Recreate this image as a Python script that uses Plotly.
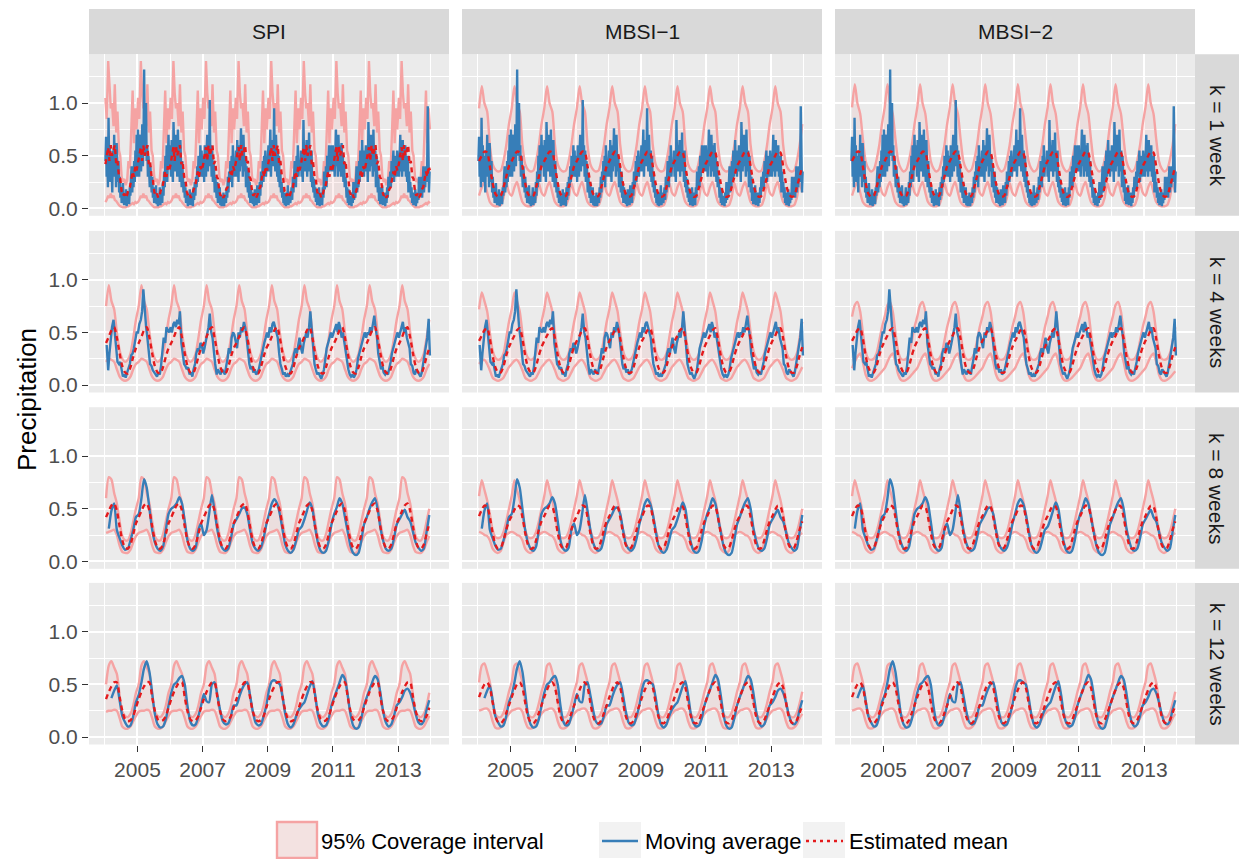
import pandas as pd
import plotly.graph_objects as go

N = None
methods = ["SPI", "MBSI\u22121", "MBSI\u22122"]
windows = ["k = 1 week", "k = 4 weeks", "k = 8 weeks", "k = 12 weeks"]
x_tick_years = ["2005", "2007", "2009", "2011", "2013"]
x_minor_years = ["2004", "2006", "2008", "2010", "2012", "2014"]
y_tick_vals = [0.0, 0.5, 1.0]
y_tick_labels = ["0.0", "0.5", "1.0"]
y_minor_vals = [0.25, 0.75, 1.25]
legend_labels = ["95% Coverage interval", "Moving average", "Estimated mean"]

# ---------------- k = 1 week (weekly observed values, one line per year) ----------------
k1_avg = [
    .45, .68, .3, .5, .2, .86, .4, .6, .25, .5, .35, .15, .55, .3, .7, .4, .55, .2, .62, .35, .25, .45, .15, .3, .1, .2,
    .05, .15, .24, .08, .03, .12, .05, .18, .02, .1, .06, .15, .04, .2, .12, .3, .4, .15, .35, .2, .45, .25, .55, .4, .7, .3,
    .75, .45, .3, .6, .7, .35, .55, .8, .4, .65, 1.32, .5, .7, 1.0, .45, .6, .3, .5, .35, .2, .4, .25, .15, .3, .1, .2,
    .05, .15, .08, .22, .04, .1, .02, .12, .06, .2, .03, .1, .15, .05, .25, .12, .35, .2, .5, .3, .6, .25, .55, .7, .4, .6,
    .5, .3, .65, .45, .25, .82, .5, .35, .7, .4, .6, .3, .75, .45, .55, .25, .65, .35, .2, .45, .3, .15, .25, .1, .2, .05,
    .15, .08, .02, .12, .05, .18, .03, .1, .06, .15, .02, .2, .08, .25, .12, .3, .2, .4, .25, .5, .35, .3, .6, .4, .55, .3,
    .35, .5, .25, .6, .4, .3, .55, .7, .35, .5, .45, 1.03, .4, .6, .3, .55, .25, .45, .35, .15, .3, .2, .1, .25, .05, .15,
    .08, .2, .03, .12, .02, .1, .05, .15, .02, .08, .12, .05, .2, .1, .3, .15, .35, .25, .45, .3, .5, .2, .6, .35, .45, .3,
    .4, .55, .3, .65, .45, .25, .6, .35, .5, .76, .4, .55, .3, .7, .45, .35, .5, .2, .4, .3, .15, .35, .1, .25, .05, .2,
    .08, .15, .04, .12, .02, .18, .05, .1, .03, .22, .08, .15, .05, .25, .12, .35, .2, .3, .45, .25, .5, .35, .55, .3, .45, .35,
    .45, .6, .35, .5, .75, .3, .55, .45, .65, .4, .95, .5, .35, .7, .45, .3, .55, .25, .5, .2, .35, .15, .25, .1, .18, .05,
    .12, .03, .15, .02, .1, .06, .22, .03, .08, .15, .05, .12, .2, .08, .3, .15, .25, .45, .3, .2, .5, .35, .6, .3, .45, .4,
    .4, .55, .3, .45, .25, .84, .45, .6, .35, .5, .65, .3, .55, .4, .72, .35, .5, .25, .55, .2, .3, .15, .28, .1, .2, .06,
    .15, .03, .12, .05, .2, .02, .1, .06, .15, .03, .2, .1, .35, .18, .25, .4, .2, .5, .3, .45, .6, .35, .5, .45, .6, .35,
    .6, .4, .5, .3, .45, .75, .4, .55, .3, .7, .45, .35, .6, .3, .62, .4, .5, .25, .45, .2, .3, .25, .1, .2, .05, .18,
    .03, .12, .05, .1, .02, .15, .05, .25, .08, .15, .1, .25, .4, .15, .3, .2, .45, .25, .55, .3, .4, .65, .35, .5, .3, .55,
    .45, .6, .35, .5, .25, .82, .5, .35, .6, .7, .4, .55, .3, .75, .45, .35, .55, .2, .5, .3, .15, .3, .07, .2, .04, .15,
    .05, .22, .03, .1, .06, .15, .02, .12, .05, .2, .1, .3, .18, .25, .35, .2, .45, .3, .4, .55, .25, .45, .35, .5, .3, .55,
    .4, .5, .3, .45, .7, .35, .55, .3, .65, .4, .5, .35, .6, .3, .45, .25, .5, .15, .35, .2, .25, .1, .2, .05, .15, .03,
    .12, .04, .18, .02, .1, .05, .15, .08, .3, .12, .2, .15, .3, .1, .25, .4, .15, .3, .2, .4, .25, .35, .97, .3, .15, .35,
]
# half-monthly model values
k1_spi_hi = [
    1.05, .85, 1.4, 1.1, .95, 1.0, .78, 1.18, .72, .92, .55, .5, .3, .25, .28, .22, .27, .45, .38, .7, 1.12, .62, .95, .75,
    1.05, .85, 1.4, 1.1, .95, 1.0, .78, 1.18, .72, .92, .55, .5, .3, .25, .28, .22, .27, .45, .38, .7, 1.12, .62, .95, .75,
    1.05, .85, 1.4, 1.1, .95, 1.0, .78, 1.18, .72, .92, .55, .5, .3, .25, .28, .22, .27, .45, .38, .7, 1.12, .62, .95, .75,
    1.05, .85, 1.4, 1.1, .95, 1.0, .78, 1.18, .72, .92, .55, .5, .3, .25, .28, .22, .27, .45, .38, .7, 1.12, .62, .95, .75,
    1.05, .85, 1.4, 1.1, .95, 1.0, .78, 1.18, .72, .92, .55, .5, .3, .25, .28, .22, .27, .45, .38, .7, 1.12, .62, .95, .75,
    1.05, .85, 1.4, 1.1, .95, 1.0, .78, 1.18, .72, .92, .55, .5, .3, .25, .28, .22, .27, .45, .38, .7, 1.12, .62, .95, .75,
    1.05, .85, 1.4, 1.1, .95, 1.0, .78, 1.18, .72, .92, .55, .5, .3, .25, .28, .22, .27, .45, .38, .7, 1.12, .62, .95, .75,
    1.05, .85, 1.4, 1.1, .95, 1.0, .78, 1.18, .72, .92, .55, .5, .3, .25, .28, .22, .27, .45, .38, .7, 1.12, .62, .95, .75,
    1.05, .85, 1.4, 1.1, .95, 1.0, .78, 1.18, .72, .92, .55, .5, .3, .25, .28, .22, .27, .45, .38, .7, 1.12, .62, .95, .75,
    1.05, .85, 1.4, 1.1, .95, 1.0, .78, 1.18, .72, .92, .55, .5, .3, .25, .28, .22, .27, .45, .38, .7, 1.12, .62, .95, .75,
]
k1_spi_lo = [
    .06, .08, .12, .1, .14, .1, .12, .08, .07, .05, .03, .02, .01, .01, .01, .01, .02, .02, .03, .04, .05, .04, .06, .05,
    .06, .08, .12, .1, .14, .1, .12, .08, .07, .05, .03, .02, .01, .01, .01, .01, .02, .02, .03, .04, .05, .04, .06, .05,
    .06, .08, .12, .1, .14, .1, .12, .08, .07, .05, .03, .02, .01, .01, .01, .01, .02, .02, .03, .04, .05, .04, .06, .05,
    .06, .08, .12, .1, .14, .1, .12, .08, .07, .05, .03, .02, .01, .01, .01, .01, .02, .02, .03, .04, .05, .04, .06, .05,
    .06, .08, .12, .1, .14, .1, .12, .08, .07, .05, .03, .02, .01, .01, .01, .01, .02, .02, .03, .04, .05, .04, .06, .05,
    .06, .08, .12, .1, .14, .1, .12, .08, .07, .05, .03, .02, .01, .01, .01, .01, .02, .02, .03, .04, .05, .04, .06, .05,
    .06, .08, .12, .1, .14, .1, .12, .08, .07, .05, .03, .02, .01, .01, .01, .01, .02, .02, .03, .04, .05, .04, .06, .05,
    .06, .08, .12, .1, .14, .1, .12, .08, .07, .05, .03, .02, .01, .01, .01, .01, .02, .02, .03, .04, .05, .04, .06, .05,
    .06, .08, .12, .1, .14, .1, .12, .08, .07, .05, .03, .02, .01, .01, .01, .01, .02, .02, .03, .04, .05, .04, .06, .05,
    .06, .08, .12, .1, .14, .1, .12, .08, .07, .05, .03, .02, .01, .01, .01, .01, .02, .02, .03, .04, .05, .04, .06, .05,
]
k1_spi_mean = [
    .42, .5, .58, .45, .6, .5, .55, .6, .42, .45, .3, .28, .16, .12, .14, .1, .13, .18, .2, .28, .35, .3, .4, .36,
    .42, .5, .58, .45, .6, .5, .55, .6, .42, .45, .3, .28, .16, .12, .14, .1, .13, .18, .2, .28, .35, .3, .4, .36,
    .42, .5, .58, .45, .6, .5, .55, .6, .42, .45, .3, .28, .16, .12, .14, .1, .13, .18, .2, .28, .35, .3, .4, .36,
    .42, .5, .58, .45, .6, .5, .55, .6, .42, .45, .3, .28, .16, .12, .14, .1, .13, .18, .2, .28, .35, .3, .4, .36,
    .42, .5, .58, .45, .6, .5, .55, .6, .42, .45, .3, .28, .16, .12, .14, .1, .13, .18, .2, .28, .35, .3, .4, .36,
    .42, .5, .58, .45, .6, .5, .55, .6, .42, .45, .3, .28, .16, .12, .14, .1, .13, .18, .2, .28, .35, .3, .4, .36,
    .42, .5, .58, .45, .6, .5, .55, .6, .42, .45, .3, .28, .16, .12, .14, .1, .13, .18, .2, .28, .35, .3, .4, .36,
    .42, .5, .58, .45, .6, .5, .55, .6, .42, .45, .3, .28, .16, .12, .14, .1, .13, .18, .2, .28, .35, .3, .4, .36,
    .42, .5, .58, .45, .6, .5, .55, .6, .42, .45, .3, .28, .16, .12, .14, .1, .13, .18, .2, .28, .35, .3, .4, .36,
    .42, .5, .58, .45, .6, .5, .55, .6, .42, .45, .3, .28, .16, .12, .14, .1, .13, .18, .2, .28, .35, .3, .4, .36,
]
# monthly values (Jan..Dec per line)
k1_m1_hi = [
    .95, 1.16, 1.0, .92, .6, .42, .37, .35, .36, .45, .6, .8,
    .95, 1.16, 1.0, .92, .6, .42, .37, .35, .36, .45, .6, .8,
    .95, 1.16, 1.0, .92, .6, .42, .37, .35, .36, .45, .6, .8,
    .95, 1.16, 1.0, .92, .6, .42, .37, .35, .36, .45, .6, .8,
    .95, 1.16, 1.0, .92, .6, .42, .37, .35, .36, .45, .6, .8,
    .95, 1.16, 1.0, .92, .6, .42, .37, .35, .36, .45, .6, .8,
    .95, 1.16, 1.0, .92, .6, .42, .37, .35, .36, .45, .6, .8,
    .95, 1.16, 1.0, .92, .6, .42, .37, .35, .36, .45, .6, .8,
    .95, 1.16, 1.0, .92, .6, .42, .37, .35, .36, .45, .6, .8,
    .95, 1.16, 1.0, .92, .6, .42, .37, .35, .36, .45, .6, .8,
]
k1_m2_hi = [
    .96, 1.18, 1.0, .9, .66, .45, .38, .35, .37, .46, .6, .8,
    .96, 1.18, 1.0, .9, .66, .45, .38, .35, .37, .46, .6, .8,
    .96, 1.18, 1.0, .9, .66, .45, .38, .35, .37, .46, .6, .8,
    .96, 1.18, 1.0, .9, .66, .45, .38, .35, .37, .46, .6, .8,
    .96, 1.18, 1.0, .9, .66, .45, .38, .35, .37, .46, .6, .8,
    .96, 1.18, 1.0, .9, .66, .45, .38, .35, .37, .46, .6, .8,
    .96, 1.18, 1.0, .9, .66, .45, .38, .35, .37, .46, .6, .8,
    .96, 1.18, 1.0, .9, .66, .45, .38, .35, .37, .46, .6, .8,
    .96, 1.18, 1.0, .9, .66, .45, .38, .35, .37, .46, .6, .8,
    .96, 1.18, 1.0, .9, .66, .45, .38, .35, .37, .46, .6, .8,
]
k1_m_mean = [
    .45, .5, .54, .53, .4, .24, .14, .11, .12, .2, .3, .4,
    .45, .5, .54, .53, .4, .24, .14, .11, .12, .2, .3, .4,
    .45, .5, .54, .53, .4, .24, .14, .11, .12, .2, .3, .4,
    .45, .5, .54, .53, .4, .24, .14, .11, .12, .2, .3, .4,
    .45, .5, .54, .53, .4, .24, .14, .11, .12, .2, .3, .4,
    .45, .5, .54, .53, .4, .24, .14, .11, .12, .2, .3, .4,
    .45, .5, .54, .53, .4, .24, .14, .11, .12, .2, .3, .4,
    .45, .5, .54, .53, .4, .24, .14, .11, .12, .2, .3, .4,
    .45, .5, .54, .53, .4, .24, .14, .11, .12, .2, .3, .4,
    .45, .5, .54, .53, .4, .24, .14, .11, .12, .2, .3, .4,
]
k1_m_lo = [
    .12, .2, .25, .15, .06, .03, .02, .02, .03, .1, .24, .15,
    .12, .2, .25, .15, .06, .03, .02, .02, .03, .1, .24, .15,
    .12, .2, .25, .15, .06, .03, .02, .02, .03, .1, .24, .15,
    .12, .2, .25, .15, .06, .03, .02, .02, .03, .1, .24, .15,
    .12, .2, .25, .15, .06, .03, .02, .02, .03, .1, .24, .15,
    .12, .2, .25, .15, .06, .03, .02, .02, .03, .1, .24, .15,
    .12, .2, .25, .15, .06, .03, .02, .02, .03, .1, .24, .15,
    .12, .2, .25, .15, .06, .03, .02, .02, .03, .1, .24, .15,
    .12, .2, .25, .15, .06, .03, .02, .02, .03, .1, .24, .15,
    .12, .2, .25, .15, .06, .03, .02, .02, .03, .1, .24, .15,
]

# ---------------- k = 4 weeks ----------------
k4_avg = [  # half-monthly
    N, .38, .14, .3, .48, .55, .62, .45, .35, .22, .2, .22, .12, .08, .1, .07, .12, .15, .2, .28, .3, .35, .45, .5,
    .5, .58, .62, .7, .91, .72, .55, .45, .3, .2, .18, .14, .12, .1, .08, .12, .1, .18, .3, .45, .4, .55, .52, .5,
    .55, .5, .58, .6, .55, .62, .58, .7, .4, .3, .2, .18, .15, .17, .1, .12, .08, .15, .2, .3, .35, .32, .4, .38,
    .3, .35, .42, .5, .55, .68, .5, .45, .3, .2, .1, .15, .12, .1, .15, .12, .1, .18, .25, .35, .3, .45, .5, .48,
    .4, .35, .5, .45, .55, .5, .6, .55, .45, .3, .2, .15, .18, .12, .15, .1, .12, .15, .22, .3, .35, .4, .45, .5,
    .45, .55, .5, .58, .6, .55, .5, .45, .3, .2, .15, .1, .12, .08, .1, .08, .12, .15, .2, .3, .35, .3, .4, .45,
    .35, .3, .4, .45, .5, .45, .55, .7, .5, .35, .2, .15, .1, .12, .08, .06, .1, .15, .25, .35, .4, .45, .5, .45,
    .5, .55, .58, .5, .6, .55, .45, .5, .4, .3, .2, .15, .1, .08, .1, .07, .1, .15, .25, .3, .35, .42, .45, .5,
    .45, .5, .48, .55, .5, .58, .66, .55, .45, .3, .2, .15, .18, .12, .1, .12, .1, .15, .22, .3, .35, .4, .45, .5,
    .45, .5, .55, .6, .5, .55, .45, .4, .35, .2, .18, .12, .1, .15, .12, .1, .08, .12, .2, .3, .35, .45, .63, .28,
]
k4_spi_hi = [
    .75, .95, .8, .72, .5, .33, .25, .22, .24, .3, .45, .62,
    .75, .95, .8, .72, .5, .33, .25, .22, .24, .3, .45, .62,
    .75, .95, .8, .72, .5, .33, .25, .22, .24, .3, .45, .62,
    .75, .95, .8, .72, .5, .33, .25, .22, .24, .3, .45, .62,
    .75, .95, .8, .72, .5, .33, .25, .22, .24, .3, .45, .62,
    .75, .95, .8, .72, .5, .33, .25, .22, .24, .3, .45, .62,
    .75, .95, .8, .72, .5, .33, .25, .22, .24, .3, .45, .62,
    .75, .95, .8, .72, .5, .33, .25, .22, .24, .3, .45, .62,
    .75, .95, .8, .72, .5, .33, .25, .22, .24, .3, .45, .62,
    .75, .95, .8, .72, .5, .33, .25, .22, .24, .3, .45, .62,
]
k4_spi_mean = [
    .4, .46, .52, .55, .45, .3, .18, .12, .11, .17, .27, .35,
    .4, .46, .52, .55, .45, .3, .18, .12, .11, .17, .27, .35,
    .4, .46, .52, .55, .45, .3, .18, .12, .11, .17, .27, .35,
    .4, .46, .52, .55, .45, .3, .18, .12, .11, .17, .27, .35,
    .4, .46, .52, .55, .45, .3, .18, .12, .11, .17, .27, .35,
    .4, .46, .52, .55, .45, .3, .18, .12, .11, .17, .27, .35,
    .4, .46, .52, .55, .45, .3, .18, .12, .11, .17, .27, .35,
    .4, .46, .52, .55, .45, .3, .18, .12, .11, .17, .27, .35,
    .4, .46, .52, .55, .45, .3, .18, .12, .11, .17, .27, .35,
    .4, .46, .52, .55, .45, .3, .18, .12, .11, .17, .27, .35,
]
k4_spi_lo = [
    .22, .25, .24, .22, .15, .08, .05, .04, .05, .08, .15, .2,
    .22, .25, .24, .22, .15, .08, .05, .04, .05, .08, .15, .2,
    .22, .25, .24, .22, .15, .08, .05, .04, .05, .08, .15, .2,
    .22, .25, .24, .22, .15, .08, .05, .04, .05, .08, .15, .2,
    .22, .25, .24, .22, .15, .08, .05, .04, .05, .08, .15, .2,
    .22, .25, .24, .22, .15, .08, .05, .04, .05, .08, .15, .2,
    .22, .25, .24, .22, .15, .08, .05, .04, .05, .08, .15, .2,
    .22, .25, .24, .22, .15, .08, .05, .04, .05, .08, .15, .2,
    .22, .25, .24, .22, .15, .08, .05, .04, .05, .08, .15, .2,
    .22, .25, .24, .22, .15, .08, .05, .04, .05, .08, .15, .2,
]
k4_m1_hi = [
    .72, .88, .8, .7, .5, .33, .26, .24, .25, .3, .45, .6,
    .72, .88, .8, .7, .5, .33, .26, .24, .25, .3, .45, .6,
    .72, .88, .8, .7, .5, .33, .26, .24, .25, .3, .45, .6,
    .72, .88, .8, .7, .5, .33, .26, .24, .25, .3, .45, .6,
    .72, .88, .8, .7, .5, .33, .26, .24, .25, .3, .45, .6,
    .72, .88, .8, .7, .5, .33, .26, .24, .25, .3, .45, .6,
    .72, .88, .8, .7, .5, .33, .26, .24, .25, .3, .45, .6,
    .72, .88, .8, .7, .5, .33, .26, .24, .25, .3, .45, .6,
    .72, .88, .8, .7, .5, .33, .26, .24, .25, .3, .45, .6,
    .72, .88, .8, .7, .5, .33, .26, .24, .25, .3, .45, .6,
]
k4_m_mean = [
    .42, .47, .52, .54, .44, .28, .17, .12, .12, .18, .28, .36,
    .42, .47, .52, .54, .44, .28, .17, .12, .12, .18, .28, .36,
    .42, .47, .52, .54, .44, .28, .17, .12, .12, .18, .28, .36,
    .42, .47, .52, .54, .44, .28, .17, .12, .12, .18, .28, .36,
    .42, .47, .52, .54, .44, .28, .17, .12, .12, .18, .28, .36,
    .42, .47, .52, .54, .44, .28, .17, .12, .12, .18, .28, .36,
    .42, .47, .52, .54, .44, .28, .17, .12, .12, .18, .28, .36,
    .42, .47, .52, .54, .44, .28, .17, .12, .12, .18, .28, .36,
    .42, .47, .52, .54, .44, .28, .17, .12, .12, .18, .28, .36,
    .42, .47, .52, .54, .44, .28, .17, .12, .12, .18, .28, .36,
]
k4_m1_lo = [
    .2, .23, .24, .2, .14, .07, .05, .04, .05, .07, .12, .17,
    .2, .23, .24, .2, .14, .07, .05, .04, .05, .07, .12, .17,
    .2, .23, .24, .2, .14, .07, .05, .04, .05, .07, .12, .17,
    .2, .23, .24, .2, .14, .07, .05, .04, .05, .07, .12, .17,
    .2, .23, .24, .2, .14, .07, .05, .04, .05, .07, .12, .17,
    .2, .23, .24, .2, .14, .07, .05, .04, .05, .07, .12, .17,
    .2, .23, .24, .2, .14, .07, .05, .04, .05, .07, .12, .17,
    .2, .23, .24, .2, .14, .07, .05, .04, .05, .07, .12, .17,
    .2, .23, .24, .2, .14, .07, .05, .04, .05, .07, .12, .17,
    .2, .23, .24, .2, .14, .07, .05, .04, .05, .07, .12, .17,
]
k4_m2_hi = [
    .65, .76, .79, .7, .5, .32, .25, .24, .25, .3, .42, .55,
    .65, .76, .79, .7, .5, .32, .25, .24, .25, .3, .42, .55,
    .65, .76, .79, .7, .5, .32, .25, .24, .25, .3, .42, .55,
    .65, .76, .79, .7, .5, .32, .25, .24, .25, .3, .42, .55,
    .65, .76, .79, .7, .5, .32, .25, .24, .25, .3, .42, .55,
    .65, .76, .79, .7, .5, .32, .25, .24, .25, .3, .42, .55,
    .65, .76, .79, .7, .5, .32, .25, .24, .25, .3, .42, .55,
    .65, .76, .79, .7, .5, .32, .25, .24, .25, .3, .42, .55,
    .65, .76, .79, .7, .5, .32, .25, .24, .25, .3, .42, .55,
    .65, .76, .79, .7, .5, .32, .25, .24, .25, .3, .42, .55,
]
k4_m2_lo = [
    .16, .22, .27, .3, .22, .1, .05, .04, .05, .07, .1, .13,
    .16, .22, .27, .3, .22, .1, .05, .04, .05, .07, .1, .13,
    .16, .22, .27, .3, .22, .1, .05, .04, .05, .07, .1, .13,
    .16, .22, .27, .3, .22, .1, .05, .04, .05, .07, .1, .13,
    .16, .22, .27, .3, .22, .1, .05, .04, .05, .07, .1, .13,
    .16, .22, .27, .3, .22, .1, .05, .04, .05, .07, .1, .13,
    .16, .22, .27, .3, .22, .1, .05, .04, .05, .07, .1, .13,
    .16, .22, .27, .3, .22, .1, .05, .04, .05, .07, .1, .13,
    .16, .22, .27, .3, .22, .1, .05, .04, .05, .07, .1, .13,
    .16, .22, .27, .3, .22, .1, .05, .04, .05, .07, .1, .13,
]

# ---------------- k = 8 weeks (monthly) ----------------
k8_avg = [
    N, .31, .48, .55, .3, .22, .15, .11, .12, .2, .3, .42,
    .45, .6, .78, .7, .5, .3, .18, .12, .1, .14, .3, .45,
    .5, .52, .55, .61, .55, .38, .2, .12, .1, .13, .3, .36,
    .25, .3, .45, .63, .48, .3, .18, .12, .1, .12, .22, .35,
    .4, .45, .5, .51, .45, .3, .17, .12, .1, .13, .22, .35,
    .45, .55, .59, .55, .45, .3, .16, .1, .08, .11, .2, .3,
    .33, .4, .48, .56, .5, .32, .18, .1, .08, .1, .2, .35,
    .45, .52, .6, .55, .42, .28, .15, .08, .06, .08, .2, .35,
    .42, .5, .56, .6, .5, .32, .2, .12, .1, .12, .22, .35,
    .4, .45, .49, .42, .38, .28, .18, .13, .1, .12, .28, .44,
]
k8_spi_hi = [
    .6, .8, .78, .65, .55, .38, .24, .2, .2, .26, .38, .5,
    .6, .8, .78, .65, .55, .38, .24, .2, .2, .26, .38, .5,
    .6, .8, .78, .65, .55, .38, .24, .2, .2, .26, .38, .5,
    .6, .8, .78, .65, .55, .38, .24, .2, .2, .26, .38, .5,
    .6, .8, .78, .65, .55, .38, .24, .2, .2, .26, .38, .5,
    .6, .8, .78, .65, .55, .38, .24, .2, .2, .26, .38, .5,
    .6, .8, .78, .65, .55, .38, .24, .2, .2, .26, .38, .5,
    .6, .8, .78, .65, .55, .38, .24, .2, .2, .26, .38, .5,
    .6, .8, .78, .65, .55, .38, .24, .2, .2, .26, .38, .5,
    .6, .8, .78, .65, .55, .38, .24, .2, .2, .26, .38, .5,
]
k8_spi_mean = [
    .42, .48, .53, .55, .48, .33, .2, .13, .12, .16, .26, .36,
    .42, .48, .53, .55, .48, .33, .2, .13, .12, .16, .26, .36,
    .42, .48, .53, .55, .48, .33, .2, .13, .12, .16, .26, .36,
    .42, .48, .53, .55, .48, .33, .2, .13, .12, .16, .26, .36,
    .42, .48, .53, .55, .48, .33, .2, .13, .12, .16, .26, .36,
    .42, .48, .53, .55, .48, .33, .2, .13, .12, .16, .26, .36,
    .42, .48, .53, .55, .48, .33, .2, .13, .12, .16, .26, .36,
    .42, .48, .53, .55, .48, .33, .2, .13, .12, .16, .26, .36,
    .42, .48, .53, .55, .48, .33, .2, .13, .12, .16, .26, .36,
    .42, .48, .53, .55, .48, .33, .2, .13, .12, .16, .26, .36,
]
k8_spi_lo = [
    .27, .28, .29, .3, .25, .15, .09, .08, .08, .11, .18, .24,
    .27, .28, .29, .3, .25, .15, .09, .08, .08, .11, .18, .24,
    .27, .28, .29, .3, .25, .15, .09, .08, .08, .11, .18, .24,
    .27, .28, .29, .3, .25, .15, .09, .08, .08, .11, .18, .24,
    .27, .28, .29, .3, .25, .15, .09, .08, .08, .11, .18, .24,
    .27, .28, .29, .3, .25, .15, .09, .08, .08, .11, .18, .24,
    .27, .28, .29, .3, .25, .15, .09, .08, .08, .11, .18, .24,
    .27, .28, .29, .3, .25, .15, .09, .08, .08, .11, .18, .24,
    .27, .28, .29, .3, .25, .15, .09, .08, .08, .11, .18, .24,
    .27, .28, .29, .3, .25, .15, .09, .08, .08, .11, .18, .24,
]
k8_m_hi = [
    .62, .77, .68, .58, .45, .3, .23, .22, .23, .28, .38, .5,
    .62, .77, .68, .58, .45, .3, .23, .22, .23, .28, .38, .5,
    .62, .77, .68, .58, .45, .3, .23, .22, .23, .28, .38, .5,
    .62, .77, .68, .58, .45, .3, .23, .22, .23, .28, .38, .5,
    .62, .77, .68, .58, .45, .3, .23, .22, .23, .28, .38, .5,
    .62, .77, .68, .58, .45, .3, .23, .22, .23, .28, .38, .5,
    .62, .77, .68, .58, .45, .3, .23, .22, .23, .28, .38, .5,
    .62, .77, .68, .58, .45, .3, .23, .22, .23, .28, .38, .5,
    .62, .77, .68, .58, .45, .3, .23, .22, .23, .28, .38, .5,
    .62, .77, .68, .58, .45, .3, .23, .22, .23, .28, .38, .5,
]
k8_m_mean = [
    .43, .49, .53, .52, .42, .27, .16, .12, .13, .2, .3, .38,
    .43, .49, .53, .52, .42, .27, .16, .12, .13, .2, .3, .38,
    .43, .49, .53, .52, .42, .27, .16, .12, .13, .2, .3, .38,
    .43, .49, .53, .52, .42, .27, .16, .12, .13, .2, .3, .38,
    .43, .49, .53, .52, .42, .27, .16, .12, .13, .2, .3, .38,
    .43, .49, .53, .52, .42, .27, .16, .12, .13, .2, .3, .38,
    .43, .49, .53, .52, .42, .27, .16, .12, .13, .2, .3, .38,
    .43, .49, .53, .52, .42, .27, .16, .12, .13, .2, .3, .38,
    .43, .49, .53, .52, .42, .27, .16, .12, .13, .2, .3, .38,
    .43, .49, .53, .52, .42, .27, .16, .12, .13, .2, .3, .38,
]
k8_m_lo = [
    .28, .27, .25, .24, .2, .12, .09, .08, .1, .18, .25, .27,
    .28, .27, .25, .24, .2, .12, .09, .08, .1, .18, .25, .27,
    .28, .27, .25, .24, .2, .12, .09, .08, .1, .18, .25, .27,
    .28, .27, .25, .24, .2, .12, .09, .08, .1, .18, .25, .27,
    .28, .27, .25, .24, .2, .12, .09, .08, .1, .18, .25, .27,
    .28, .27, .25, .24, .2, .12, .09, .08, .1, .18, .25, .27,
    .28, .27, .25, .24, .2, .12, .09, .08, .1, .18, .25, .27,
    .28, .27, .25, .24, .2, .12, .09, .08, .1, .18, .25, .27,
    .28, .27, .25, .24, .2, .12, .09, .08, .1, .18, .25, .27,
    .28, .27, .25, .24, .2, .12, .09, .08, .1, .18, .25, .27,
]

# ---------------- k = 12 weeks (monthly) ----------------
k12_avg = [
    N, N, .37, .44, .49, .35, .2, .14, .1, .11, .2, .33,
    .4, .52, .65, .72, .62, .42, .22, .12, .09, .1, .17, .3,
    .42, .5, .52, .56, .58, .5, .3, .15, .11, .12, .2, .3,
    .41, .34, .33, .5, .52, .4, .26, .15, .12, .13, .2, .3,
    .3, .38, .45, .5, .52, .4, .25, .14, .11, .12, .2, .3,
    .45, .53, .54, .52, .5, .38, .22, .12, .09, .12, .2, .26,
    .3, .33, .4, .48, .53, .4, .22, .13, .1, .11, .18, .3,
    .38, .45, .52, .59, .55, .4, .22, .11, .08, .09, .18, .3,
    .38, .45, .52, .58, .55, .42, .25, .14, .1, .12, .2, .3,
    .33, .38, .44, .46, .42, .33, .22, .14, .12, .15, .26, .35,
]
k12_spi_hi = [
    .5, .68, .72, .66, .6, .4, .24, .2, .19, .22, .3, .42,
    .5, .68, .72, .66, .6, .4, .24, .2, .19, .22, .3, .42,
    .5, .68, .72, .66, .6, .4, .24, .2, .19, .22, .3, .42,
    .5, .68, .72, .66, .6, .4, .24, .2, .19, .22, .3, .42,
    .5, .68, .72, .66, .6, .4, .24, .2, .19, .22, .3, .42,
    .5, .68, .72, .66, .6, .4, .24, .2, .19, .22, .3, .42,
    .5, .68, .72, .66, .6, .4, .24, .2, .19, .22, .3, .42,
    .5, .68, .72, .66, .6, .4, .24, .2, .19, .22, .3, .42,
    .5, .68, .72, .66, .6, .4, .24, .2, .19, .22, .3, .42,
    .5, .68, .72, .66, .6, .4, .24, .2, .19, .22, .3, .42,
]
k12_spi_mean = [
    .36, .43, .48, .52, .52, .38, .25, .17, .15, .16, .2, .28,
    .36, .43, .48, .52, .52, .38, .25, .17, .15, .16, .2, .28,
    .36, .43, .48, .52, .52, .38, .25, .17, .15, .16, .2, .28,
    .36, .43, .48, .52, .52, .38, .25, .17, .15, .16, .2, .28,
    .36, .43, .48, .52, .52, .38, .25, .17, .15, .16, .2, .28,
    .36, .43, .48, .52, .52, .38, .25, .17, .15, .16, .2, .28,
    .36, .43, .48, .52, .52, .38, .25, .17, .15, .16, .2, .28,
    .36, .43, .48, .52, .52, .38, .25, .17, .15, .16, .2, .28,
    .36, .43, .48, .52, .52, .38, .25, .17, .15, .16, .2, .28,
    .36, .43, .48, .52, .52, .38, .25, .17, .15, .16, .2, .28,
]
k12_spi_lo = [
    .24, .25, .25, .26, .25, .18, .1, .08, .08, .1, .15, .2,
    .24, .25, .25, .26, .25, .18, .1, .08, .08, .1, .15, .2,
    .24, .25, .25, .26, .25, .18, .1, .08, .08, .1, .15, .2,
    .24, .25, .25, .26, .25, .18, .1, .08, .08, .1, .15, .2,
    .24, .25, .25, .26, .25, .18, .1, .08, .08, .1, .15, .2,
    .24, .25, .25, .26, .25, .18, .1, .08, .08, .1, .15, .2,
    .24, .25, .25, .26, .25, .18, .1, .08, .08, .1, .15, .2,
    .24, .25, .25, .26, .25, .18, .1, .08, .08, .1, .15, .2,
    .24, .25, .25, .26, .25, .18, .1, .08, .08, .1, .15, .2,
    .24, .25, .25, .26, .25, .18, .1, .08, .08, .1, .15, .2,
]
k12_m_hi = [
    .52, .68, .7, .62, .52, .35, .22, .19, .19, .23, .32, .43,
    .52, .68, .7, .62, .52, .35, .22, .19, .19, .23, .32, .43,
    .52, .68, .7, .62, .52, .35, .22, .19, .19, .23, .32, .43,
    .52, .68, .7, .62, .52, .35, .22, .19, .19, .23, .32, .43,
    .52, .68, .7, .62, .52, .35, .22, .19, .19, .23, .32, .43,
    .52, .68, .7, .62, .52, .35, .22, .19, .19, .23, .32, .43,
    .52, .68, .7, .62, .52, .35, .22, .19, .19, .23, .32, .43,
    .52, .68, .7, .62, .52, .35, .22, .19, .19, .23, .32, .43,
    .52, .68, .7, .62, .52, .35, .22, .19, .19, .23, .32, .43,
    .52, .68, .7, .62, .52, .35, .22, .19, .19, .23, .32, .43,
]
k12_m_mean = [
    .38, .45, .5, .52, .47, .33, .2, .14, .13, .16, .23, .3,
    .38, .45, .5, .52, .47, .33, .2, .14, .13, .16, .23, .3,
    .38, .45, .5, .52, .47, .33, .2, .14, .13, .16, .23, .3,
    .38, .45, .5, .52, .47, .33, .2, .14, .13, .16, .23, .3,
    .38, .45, .5, .52, .47, .33, .2, .14, .13, .16, .23, .3,
    .38, .45, .5, .52, .47, .33, .2, .14, .13, .16, .23, .3,
    .38, .45, .5, .52, .47, .33, .2, .14, .13, .16, .23, .3,
    .38, .45, .5, .52, .47, .33, .2, .14, .13, .16, .23, .3,
    .38, .45, .5, .52, .47, .33, .2, .14, .13, .16, .23, .3,
    .38, .45, .5, .52, .47, .33, .2, .14, .13, .16, .23, .3,
]
k12_m_lo = [
    .25, .26, .27, .27, .24, .15, .09, .08, .09, .12, .18, .22,
    .25, .26, .27, .27, .24, .15, .09, .08, .09, .12, .18, .22,
    .25, .26, .27, .27, .24, .15, .09, .08, .09, .12, .18, .22,
    .25, .26, .27, .27, .24, .15, .09, .08, .09, .12, .18, .22,
    .25, .26, .27, .27, .24, .15, .09, .08, .09, .12, .18, .22,
    .25, .26, .27, .27, .24, .15, .09, .08, .09, .12, .18, .22,
    .25, .26, .27, .27, .24, .15, .09, .08, .09, .12, .18, .22,
    .25, .26, .27, .27, .24, .15, .09, .08, .09, .12, .18, .22,
    .25, .26, .27, .27, .24, .15, .09, .08, .09, .12, .18, .22,
    .25, .26, .27, .27, .24, .15, .09, .08, .09, .12, .18, .22,
]

# ---------------- time axes ----------------
week = pd.date_range("2004-01-08", periods=520, freq="7D")
half = pd.date_range("2004-01-01", periods=240, freq="SMS") + pd.Timedelta(days=7)
month = pd.date_range("2004-01-01", periods=120, freq="MS") + pd.Timedelta(days=14)

# (x_band, lo, hi, x_mean, mean, smooth)
panels = {
    (0, 0): (half, k1_spi_lo, k1_spi_hi, half, k1_spi_mean, False),
    (0, 1): (month, k1_m_lo, k1_m1_hi, month, k1_m_mean, True),
    (0, 2): (month, k1_m_lo, k1_m2_hi, month, k1_m_mean, True),
    (1, 0): (month, k4_spi_lo, k4_spi_hi, month, k4_spi_mean, True),
    (1, 1): (month, k4_m1_lo, k4_m1_hi, month, k4_m_mean, True),
    (1, 2): (month, k4_m2_lo, k4_m2_hi, month, k4_m_mean, True),
    (2, 0): (month, k8_spi_lo, k8_spi_hi, month, k8_spi_mean, True),
    (2, 1): (month, k8_m_lo, k8_m_hi, month, k8_m_mean, True),
    (2, 2): (month, k8_m_lo, k8_m_hi, month, k8_m_mean, True),
    (3, 0): (month, k12_spi_lo, k12_spi_hi, month, k12_spi_mean, True),
    (3, 1): (month, k12_m_lo, k12_m_hi, month, k12_m_mean, True),
    (3, 2): (month, k12_m_lo, k12_m_hi, month, k12_m_mean, True),
}
observed = {0: (week, k1_avg, False), 1: (half, k4_avg, False), 2: (month, k8_avg, True), 3: (month, k12_avg, True)}

# ---------------- styling / layout ----------------
W, H = 1239, 859
FONT = "Liberation Sans, Arial, Helvetica, sans-serif"
CI_LINE = "rgb(245,163,163)"
CI_FILL = "rgba(240,140,140,0.13)"
BLUE = "#377EB8"
RED = "#E41A1C"
PANEL_BG = "#EBEBEB"
STRIP_BG = "#D9D9D9"

col_px = [(89, 449), (462, 822), (835, 1195)]
row_px = [(54.2, 215.8), (230.9, 392.5), (407.2, 568.8), (582.9, 744.5)]

def px_x(p):
    return p / W

def px_y(p):
    return 1 - p / H

fig = go.Figure()
layout = {}
for r in range(4):
    for c in range(3):
        i = r * 3 + c + 1
        xa = "x" if i == 1 else f"x{i}"
        ya = "y" if i == 1 else f"y{i}"
        xb, lo, hi, xm, mean, smooth = panels[(r, c)]
        shape = "spline" if smooth else "linear"
        fig.add_trace(go.Scatter(x=xb, y=lo, xaxis=xa, yaxis=ya, mode="lines",
                                 line=dict(color=CI_LINE, width=2.4, shape=shape, smoothing=0.7),
                                 hoverinfo="skip", showlegend=False))
        fig.add_trace(go.Scatter(x=xb, y=hi, xaxis=xa, yaxis=ya, mode="lines", fill="tonexty",
                                 fillcolor=CI_FILL,
                                 line=dict(color=CI_LINE, width=2.4, shape=shape, smoothing=0.7),
                                 hoverinfo="skip", showlegend=False))
        bx, bv, bsm = observed[r]
        fig.add_trace(go.Scatter(x=bx, y=bv, xaxis=xa, yaxis=ya, mode="lines",
                                 line=dict(color=BLUE, width=2.4, shape="spline" if bsm else "linear", smoothing=0.6),
                                 hoverinfo="skip", showlegend=False))
        fig.add_trace(go.Scatter(x=xm, y=mean, xaxis=xa, yaxis=ya, mode="lines",
                                 line=dict(color=RED, width=2.4, dash="5px,4px", shape=shape, smoothing=0.7),
                                 hoverinfo="skip", showlegend=False))

        x0, x1 = col_px[c]
        y0, y1 = row_px[r]
        layout["xaxis" if i == 1 else f"xaxis{i}"] = dict(
            domain=[px_x(x0), px_x(x1)], anchor=ya, type="date", automargin=False,
            range=["2003-07-08", "2014-07-24"],
            tickmode="array", tickvals=[f"{y}-01-01" for y in x_tick_years], ticktext=x_tick_years,
            showticklabels=(r == 3), ticks="outside" if r == 3 else "", ticklen=6, tickwidth=1.3,
            tickcolor="#333333", tickfont=dict(family=FONT, size=21, color="#4D4D4D"),
            showgrid=True, gridcolor="white", gridwidth=1.7, zeroline=False, showline=False,
            minor=dict(tickvals=[f"{y}-01-01" for y in x_minor_years], showgrid=True,
                       gridcolor="white", gridwidth=0.9, ticks=""),
            fixedrange=True)
        layout["yaxis" if i == 1 else f"yaxis{i}"] = dict(
            domain=[px_y(y1), px_y(y0)], anchor=xa, range=[-0.071, 1.465], automargin=False,
            tickmode="array", tickvals=y_tick_vals, ticktext=y_tick_labels,
            showticklabels=(c == 0), ticks="outside" if c == 0 else "", ticklen=6, tickwidth=1.3,
            tickcolor="#333333", tickfont=dict(family=FONT, size=21, color="#4D4D4D"),
            showgrid=True, gridcolor="white", gridwidth=1.7, zeroline=False, showline=False,
            minor=dict(tickvals=y_minor_vals, showgrid=True, gridcolor="white", gridwidth=0.9, ticks=""),
            fixedrange=True)

shapes = []
annotations = []
# top strips
for c, name in enumerate(methods):
    x0, x1 = col_px[c]
    shapes.append(dict(type="rect", xref="paper", yref="paper", x0=px_x(x0), x1=px_x(x1),
                       y0=px_y(54.2), y1=px_y(9), fillcolor=STRIP_BG, line=dict(width=0), layer="below"))
    annotations.append(dict(xref="paper", yref="paper", x=px_x((x0 + x1) / 2), y=px_y(31.5),
                            text=name, showarrow=False, xanchor="center", yanchor="middle",
                            font=dict(family=FONT, size=21, color="#1A1A1A")))
# right strips
for r, name in enumerate(windows):
    y0, y1 = row_px[r]
    shapes.append(dict(type="rect", xref="paper", yref="paper", x0=px_x(1195), x1=px_x(1239),
                       y0=px_y(y1), y1=px_y(y0), fillcolor=STRIP_BG, line=dict(width=0), layer="below"))
    annotations.append(dict(xref="paper", yref="paper", x=px_x(1217), y=px_y((y0 + y1) / 2),
                            text=name, showarrow=False, textangle=90, xanchor="center", yanchor="middle",
                            font=dict(family=FONT, size=21, color="#1A1A1A")))
# y title
annotations.append(dict(xref="paper", yref="paper", x=px_x(27), y=px_y(400), text="Precipitation",
                        showarrow=False, textangle=-90, xanchor="center", yanchor="middle",
                        font=dict(family=FONT, size=26, color="black")))

# legend (drawn manually)
ky0, ky1, kym = 822, 858, 841
shapes.append(dict(type="rect", xref="paper", yref="paper", x0=px_x(277), x1=px_x(317),
                   y0=px_y(ky1), y1=px_y(ky0), fillcolor="#F3E2E1", line=dict(color=CI_LINE, width=2.4)))
shapes.append(dict(type="rect", xref="paper", yref="paper", x0=px_x(599), x1=px_x(641),
                   y0=px_y(ky1), y1=px_y(ky0), fillcolor="#F2F2F2", line=dict(width=0)))
shapes.append(dict(type="line", xref="paper", yref="paper", x0=px_x(602), x1=px_x(638),
                   y0=px_y(kym), y1=px_y(kym), line=dict(color=BLUE, width=2.6)))
shapes.append(dict(type="rect", xref="paper", yref="paper", x0=px_x(803), x1=px_x(845),
                   y0=px_y(ky1), y1=px_y(ky0), fillcolor="#F2F2F2", line=dict(width=0)))
shapes.append(dict(type="line", xref="paper", yref="paper", x0=px_x(806), x1=px_x(843),
                   y0=px_y(kym), y1=px_y(kym), line=dict(color=RED, width=2.6, dash="3px,4px")))
for xt, txt in zip([319, 643, 847], legend_labels):
    annotations.append(dict(xref="paper", yref="paper", x=px_x(xt), y=px_y(kym), text=txt,
                            showarrow=False, xanchor="left", yanchor="middle",
                            font=dict(family=FONT, size=22, color="black")))

fig.update_layout(
    width=W, height=H, margin=dict(l=0, r=0, t=0, b=0, pad=0),
    paper_bgcolor="white", plot_bgcolor=PANEL_BG, showlegend=False,
    shapes=shapes, annotations=annotations, font=dict(family=FONT), **layout)

fig.write_html("out.html", config={"displayModeBar": False},
               post_script="document.body.style.margin='0';document.body.style.overflow='hidden';")
